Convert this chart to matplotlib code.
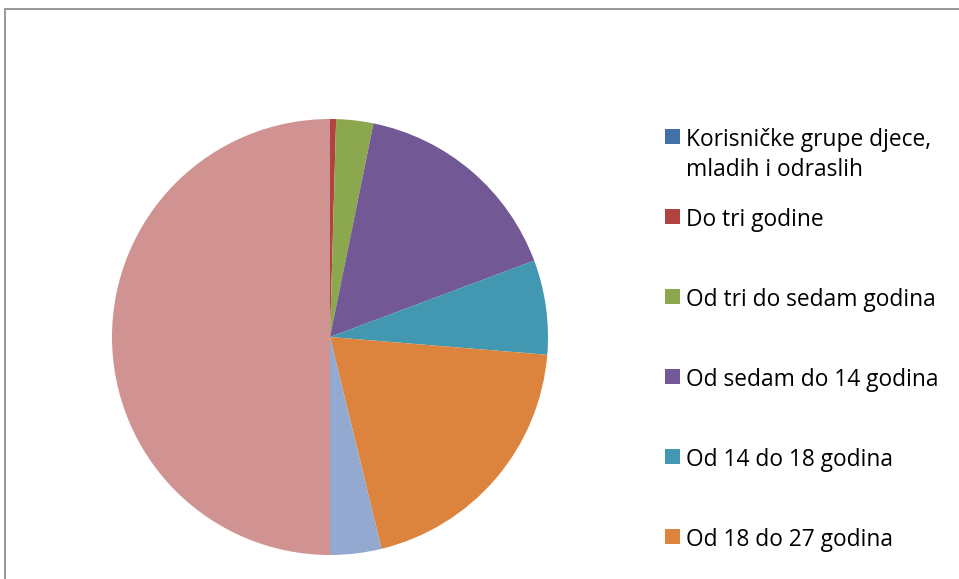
import matplotlib.pyplot as plt
from matplotlib.patches import Rectangle

# slice shares (%), clockwise from 12 o'clock
values = [0.0, 0.45, 2.75, 16.1, 7.0, 19.9, 3.8, 50.0]
colors = ['#4470A8', '#B0433F', '#8BA84E', '#725894', '#4198B0',
          '#DC843D', '#93A9CF', '#D09392']
labels = ['Korisničke grupe djece,\nmladih i odraslih', 'Do tri godine',
          'Od tri do sedam godina', 'Od sedam do 14 godina',
          'Od 14 do 18 godina', 'Od 18 do 27 godina']

W, H = 959, 579
fig = plt.figure(figsize=(W / 100, H / 100), dpi=100)

# chart frame (runs off the right and bottom edge like the crop)
fig.patches.append(Rectangle((5 / W, -0.1), 1.2, 1 - 9 / H + 0.1,
                             transform=fig.transFigure, fill=False,
                             edgecolor='#868686', linewidth=1.2))

# pie: centre (330, 337) px, radius 218 px
cx, cy, r = 330, 337, 218
ax = fig.add_axes([(cx - r) / W, (H - cy - r) / H, 2 * r / W, 2 * r / H])
ax.pie(values, colors=colors, startangle=90, counterclock=False,
       wedgeprops=dict(linewidth=0))
ax.set_xlim(-1, 1)
ax.set_ylim(-1, 1)
ax.set_aspect('equal')

# legend, Excel style: entries 80 px apart, lines 30 px apart
base0 = 146
for i, lab in enumerate(labels):
    base = base0 + 80 * i
    sq = base - 9.5
    fig.patches.append(Rectangle((665 / W, 1 - (sq + 7.5) / H), 15 / W, 15 / H,
                                 transform=fig.transFigure,
                                 facecolor=colors[i], edgecolor='none'))
    for j, line in enumerate(lab.split('\n')):
        fig.text(686 / W, 1 - (base + 30 * j) / H, line, fontsize=16.4,
                 family='Open Sans', va='baseline', ha='left', color='black')

fig.savefig('out.png', dpi=100)
